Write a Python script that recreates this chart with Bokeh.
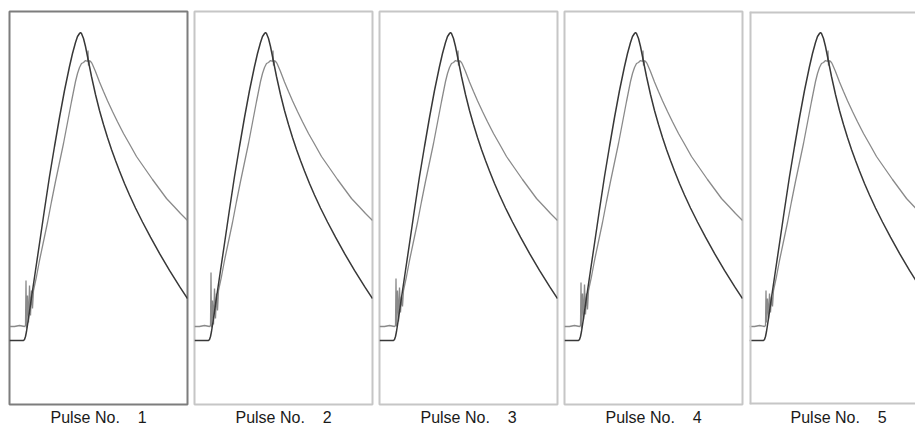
from bokeh.plotting import figure
from bokeh.layouts import row
from bokeh.models import Span, Range1d, Title
from bokeh.embed import file_html
from bokeh.resources import INLINE

# ---------------- data ----------------
NB = "\u00a0"
pulse_labels = ["Pulse No." + NB * 4 + n for n in ["1", "2", "3", "4", "5"]]

# reference (dark) pulse: time (ns), amplitude (a.u.)
dark_t = [0, 14, 15, 16, 17, 19, 22, 26, 30, 35, 40, 45, 50, 55, 60, 63, 66, 68, 70, 71, 72,
          74, 76, 78, 80, 82, 84, 86, 88, 90, 94, 98, 102, 106, 110, 115, 120, 126, 133,
          141, 150, 160, 170, 178]
dark_v = [0, 0, 1, 4, 9, 22, 43, 70, 97, 131, 164, 194, 223, 250, 274, 287, 298, 304, 307,
          308, 307, 302, 294, 284, 274, 264, 255, 246, 238, 230, 216, 203, 191, 180, 169.5,
          157, 145.5, 132.5, 118.5, 103.3, 87.1, 70.1, 54.1, 42]

# measured (grey) pulse: baseline
gray_base_t = [0, 5, 10, 15]
gray_base_v = [14, 14, 15, 14]

# noisy onset, one list per pulse
spike_t = [16, 16.5, 17, 18, 19, 20, 21, 22, 23]
spike_v = [
    [15, 60, 12, 45, 18, 55, 25, 50, 32],
    [15, 68, 13, 40, 16, 52, 22, 47, 30],
    [15, 62, 14, 50, 19, 53, 28, 44, 34],
    [15, 58, 12, 47, 21, 56, 26, 47, 31],
    [15, 50, 18, 42, 22, 47, 28, 44, 34],
]

# rise, peak and slow decay of the grey pulse
gray_t = [24, 27, 30, 34, 38, 42, 46, 50, 54, 58, 62, 66, 68, 70, 72, 74, 76, 78, 78.5, 79,
          80, 82, 83, 86, 90, 94, 98, 103, 108, 114, 120, 127, 135, 143, 150, 157, 165,
          171, 178]
gray_v = [50, 64, 80, 99, 118, 139, 159, 178, 197, 218, 239, 259, 267, 273, 277, 278, 280,
          279, 290, 275, 280, 278, 276, 269, 258.5, 249, 239.7, 229, 218.7, 207, 196.5, 184,
          172.5, 161, 151.5, 142, 133.5, 127, 120]

X_FULL = 178
Y_MIN, Y_MAX = -64, 329

figs = []
for i, lab in enumerate(pulse_labels):
    last = i == len(pulse_labels) - 1
    fw = 166 if last else 178
    p = figure(frame_width=fw, frame_height=393,
               x_range=Range1d(0, fw), y_range=Range1d(Y_MIN, Y_MAX),
               x_axis_location=None, y_axis_location=None,
               toolbar_location=None, output_backend="svg",
               min_border_left=9 if i == 0 else 1,
               min_border_right=0 if last else 6,
               min_border_top=11, min_border_bottom=4,
               background_fill_color="white", border_fill_color="white")
    p.grid.visible = False
    oc = "#7d7d7d" if i == 0 else "#c6c6c6"
    if last:
        # right edge of the last panel lies outside the window: draw three sides only
        p.outline_line_alpha = 0
        for loc, dim in [(Y_MAX, "width"), (Y_MIN, "width"), (0, "height")]:
            p.add_layout(Span(location=loc, dimension=dim, line_color=oc,
                              line_width=4, line_alpha=1.0))
    else:
        p.outline_line_color = oc
        p.outline_line_width = 2

    gt = gray_base_t + spike_t + gray_t
    gv = gray_base_v + spike_v[i] + gray_v
    p.line(gt, gv, line_color="#8a8a8a", line_width=1.3)
    p.line(dark_t, dark_v, line_color="#383838", line_width=1.5)

    if last:
        t = Title(text=lab, align="left", offset=41)
    else:
        t = Title(text=lab, align="center")
    t.text_font = "Liberation Sans"
    t.text_font_size = "16px"
    t.text_font_style = "normal"
    t.text_color = "#1a1a1a"
    t.standoff = 4
    p.add_layout(t, "below")
    figs.append(p)

layout = row(*figs, spacing=0)
open("out.html", "w").write(file_html(layout, INLINE))
